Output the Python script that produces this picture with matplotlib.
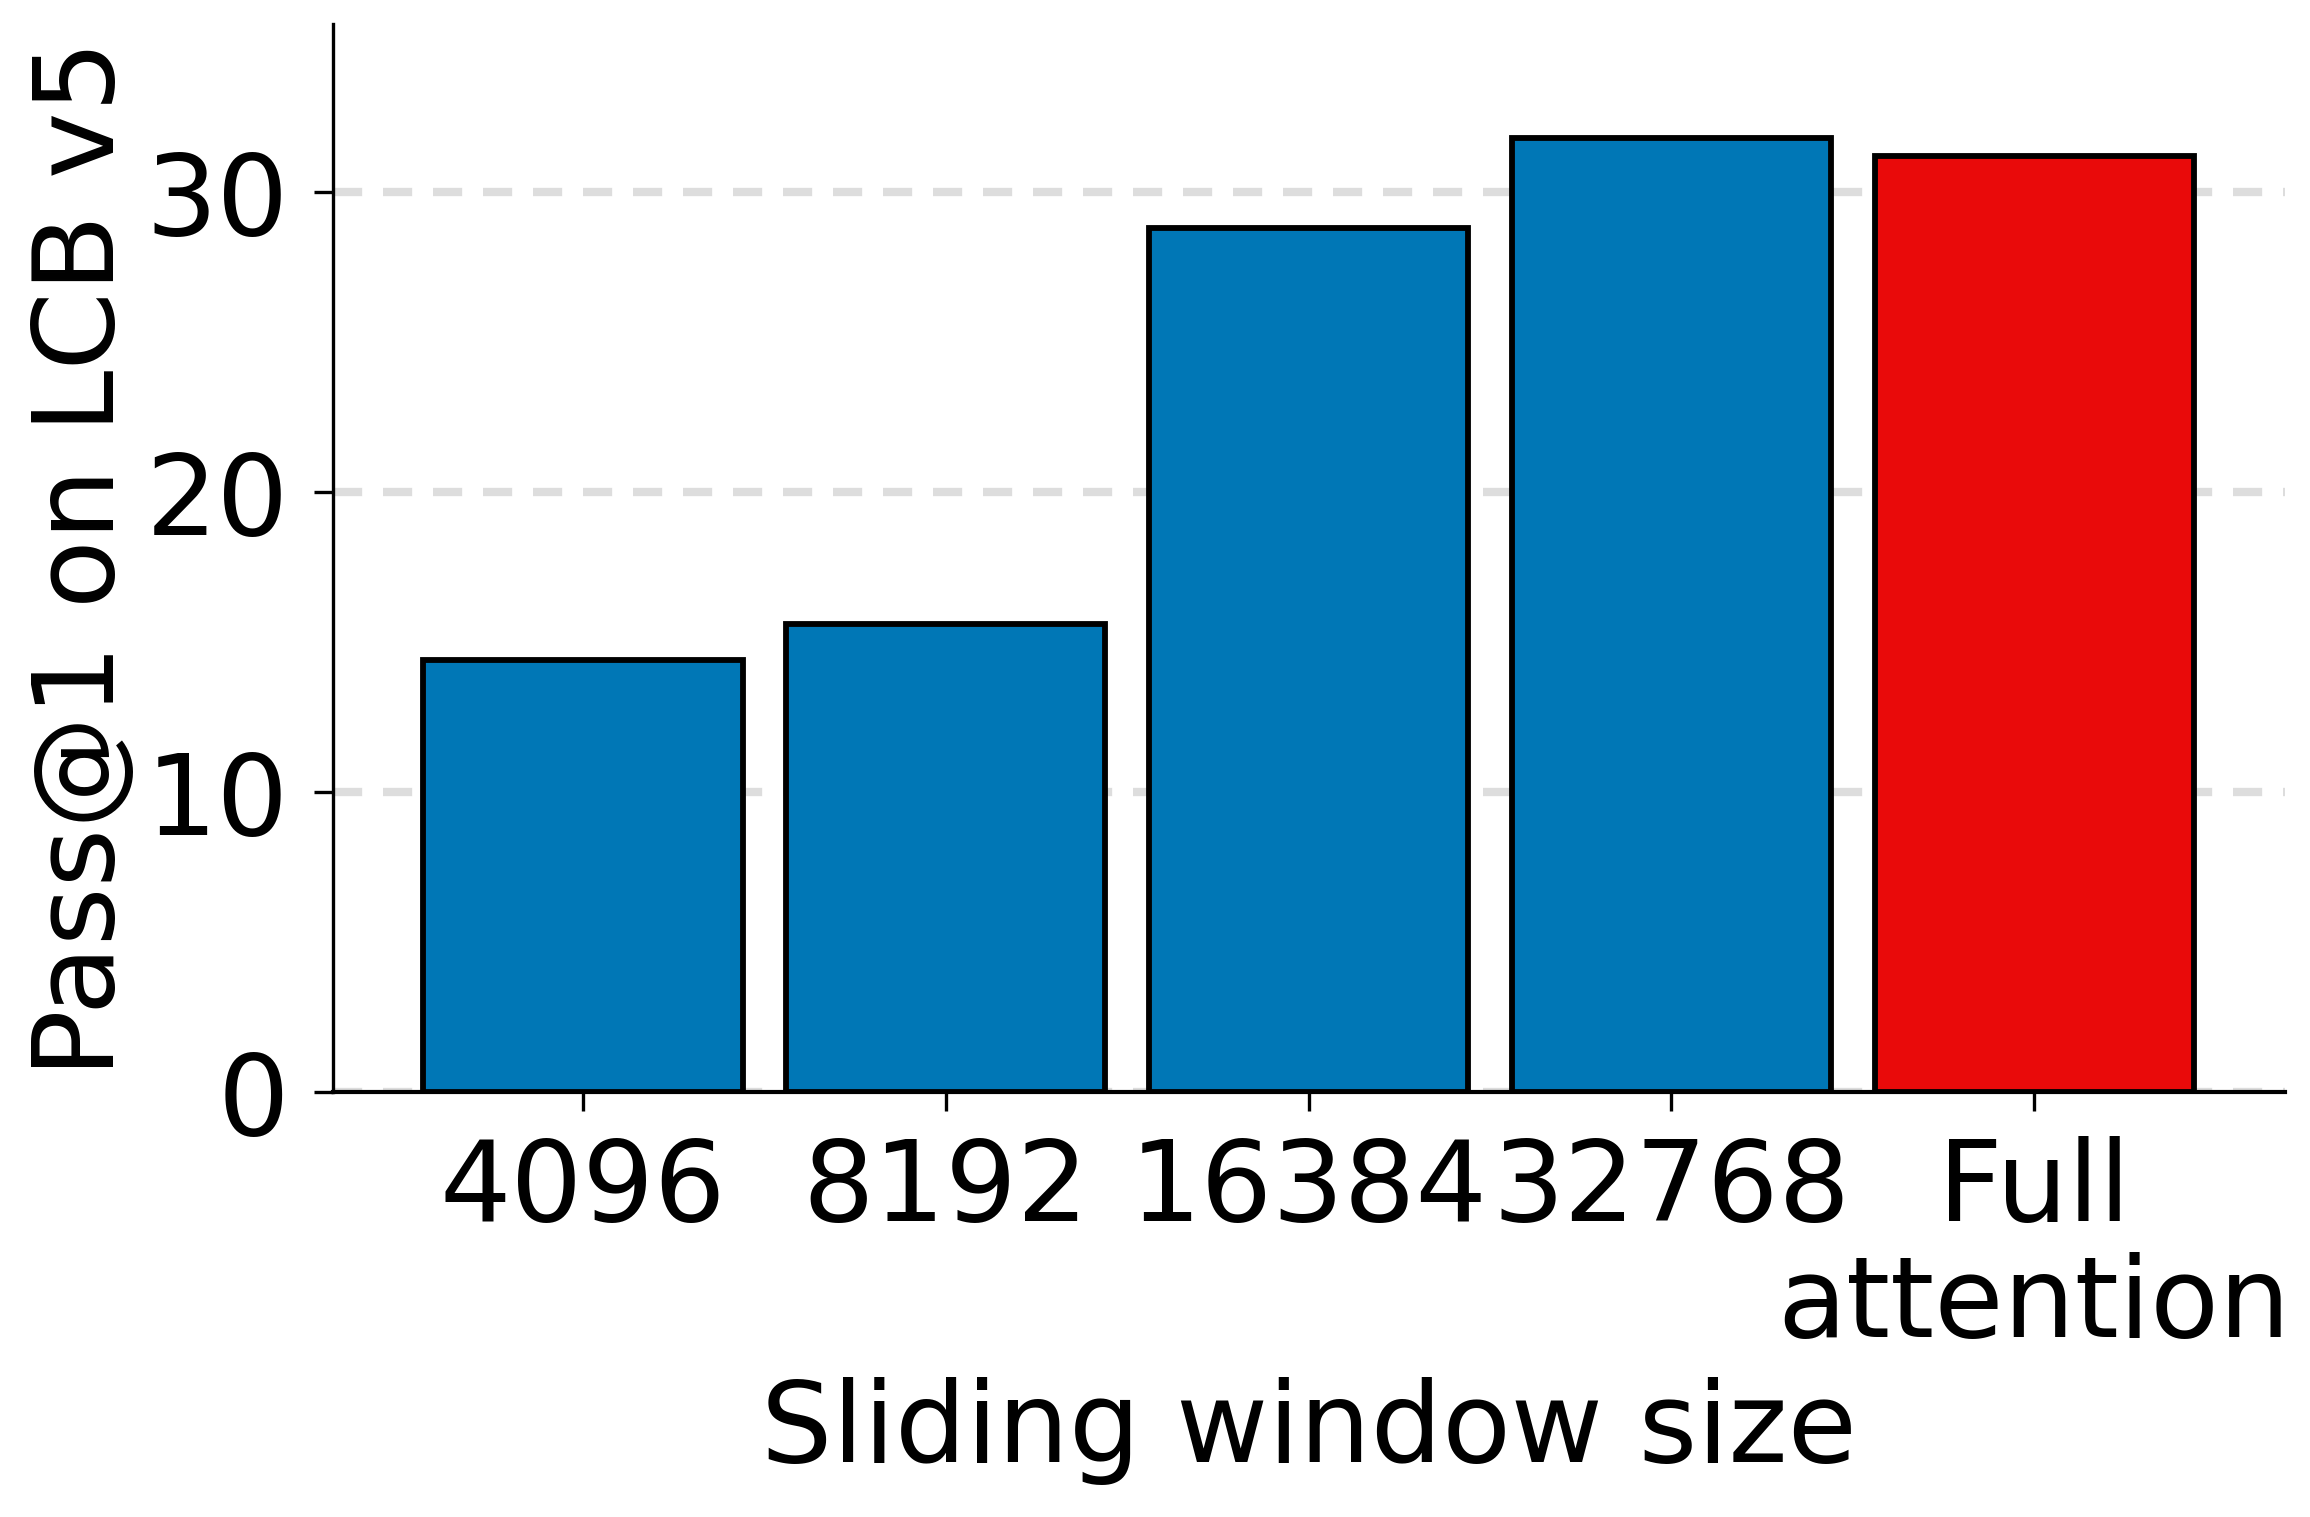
import matplotlib
matplotlib.use("Agg")
import matplotlib.pyplot as plt

# values
windows = ["4096", "8192", "16384", "32768", "Full\nattention"]
pass_at_1 = [14.4, 15.6, 28.8, 31.8, 31.2]
bar_colors = ["#0077b6", "#0077b6", "#0077b6", "#0077b6", "#e90a0a"]
yticks = [0, 10, 20, 30]

plt.rcParams["font.family"] = "DejaVu Sans"
plt.rcParams["font.size"] = 27

fig = plt.figure(figsize=(7.7, 5.0567), dpi=300)
ax = fig.add_axes([0.144, 0.28, 0.845, 0.704])

xs = list(range(len(windows)))
ax.bar(xs, pass_at_1, width=0.88, color=bar_colors, edgecolor="black",
       linewidth=1.4, zorder=3)

ax.set_xticks(xs)
ax.set_xticklabels(windows, ha="center", multialignment="center",
                   linespacing=1.1)
ax.set_yticks(yticks)
ax.set_xlim(-0.69, 4.69)
ax.set_ylim(0, 35.6)

ax.grid(axis="y", linestyle=(0, (3.5, 2.5)), color="#dddddd", linewidth=2.0,
        zorder=0)
ax.set_axisbelow(True)

for s in ["top", "right"]:
    ax.spines[s].set_visible(False)
ax.spines["left"].set_linewidth(0.8)
ax.spines["bottom"].set_linewidth(1.0)
ax.tick_params(axis="both", length=4.5, width=0.8, pad=6)

ax.set_xlabel("Sliding window size", labelpad=4)
ax.set_ylabel("Pass@1 on LCB v5", labelpad=2)

fig.savefig("out.png", dpi=300)
